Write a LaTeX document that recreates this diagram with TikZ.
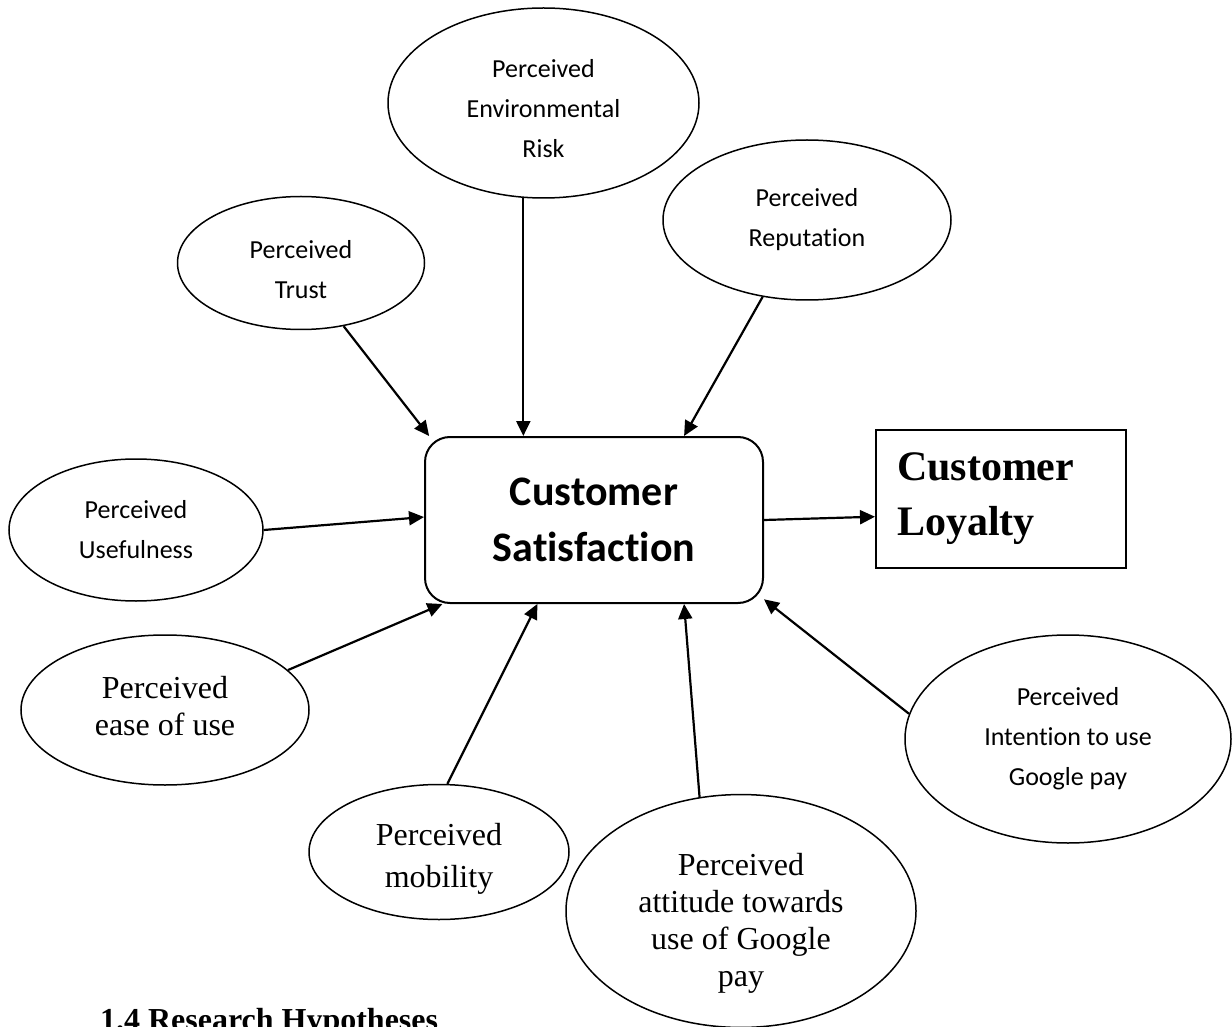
\documentclass[tikz,border=0pt]{standalone}
\usepackage{fontspec}
\setmainfont{Liberation Serif}
\newfontfamily\calibri[Ligatures=NoCommon]{Carlito}
\usetikzlibrary{shapes.geometric, arrows.meta, positioning}
\tikzset{>={Triangle[length=7.5pt,width=7pt]}}

\begin{document}
\begin{tikzpicture}[
  x=0.5pt, y=-0.5pt,
  factor/.style={ellipse,draw,line width=0.75pt,inner sep=0pt,align=center,font=\calibri\fontsize{13}{20}\selectfont},
  factorserif/.style={factor,font=\fontsize{16}{18.5}\selectfont},
  hub/.style={rectangle,draw,rounded corners=12.5pt,line width=1pt,minimum width=169pt,minimum height=83pt,align=center,font=\calibri\bfseries\fontsize{21}{28}\selectfont},
  outcome/.style={rectangle,draw,line width=1pt,minimum width=125pt,minimum height=69pt,text width=104pt,inner xsep=10.5pt,align=left,font=\bfseries\fontsize{21}{27.5}\selectfont},
  link/.style={->,line width=1.1pt}
]
  \useasboundingbox (0,0) rectangle (1232,1027);

  % Central constructs
  \node[hub] (cs) at (594,520) {Customer\\Satisfaction};
  \node[outcome] (loyal) at (1001,499) {Customer\\Loyalty};

  % Perceived factors
  \node[factor, minimum width=155.5pt, minimum height=95pt, text height=54.1pt] (risk) at (543.5,103) {Perceived\\Environmental\\Risk};
  \node[factor, minimum width=123.5pt, minimum height=66.5pt, text height=35.1pt] (trust) at (301,263) {Perceived\\Trust};
  \node[factor, minimum width=144pt, minimum height=80pt] (repu) at (807,220) {Perceived\\Reputation};
  \node[factor, minimum width=127pt, minimum height=71pt] (useful) at (136,530) {Perceived\\Usefulness};
  \node[factorserif, minimum width=144pt, minimum height=75pt, text height=25.4pt] (ease) at (165,710) {Perceived\\ease of use};
  \node[factorserif, minimum width=130pt, minimum height=67.5pt, text height=38.9pt,
        font=\fontsize{16}{21}\selectfont] (mobil) at (439,852) {Perceived\\mobility};
  \node[factorserif, minimum width=175pt, minimum height=111pt, text height=78.9pt] (attit) at (741,911) {Perceived\\attitude towards\\use of Google\\pay};
  \node[factor, minimum width=163pt, minimum height=104pt] (intent) at (1068,739) {Perceived\\Intention to use\\Google pay};

  % Links into satisfaction
  \draw[link] (trust.-56) -- (cs.153);
  \draw[link] (risk.-102) -- (risk.-102 |- cs.north);
  \draw[link] (repu.-120) -- (cs.43);
  \draw[link] (useful.east) -- (cs.179);
  \draw[link] (ease.18) -- (cs.209);
  \draw[link] (mobil.83) -- (cs.236);
  \draw[link] (attit.110) -- (cs.-43);
  \draw[link] (intent.171.5) -- (cs.-25);

  % Satisfaction to loyalty
  \draw[link] (cs.east) -- (loyal.188);

  \node[anchor=base west, font=\bfseries\fontsize{16}{19}\selectfont] (heading) at (93,1030) {1.4 Research Hypotheses};
\end{tikzpicture}
\end{document}
